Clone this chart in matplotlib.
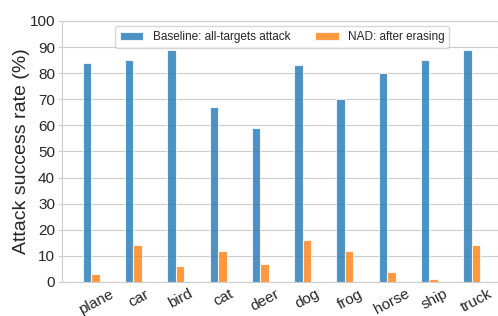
import numpy as np
import matplotlib
matplotlib.use('Agg')
import matplotlib.pyplot as plt
import seaborn as sns

sns.set_style('whitegrid')
plt.rcParams['font.family'] = ['Liberation Sans', 'DejaVu Sans']

classes = ['plane', 'car', 'bird', 'cat', 'deer', 'dog', 'frog', 'horse', 'ship', 'truck']
baseline = [84, 85, 89, 67, 59, 83, 70, 80, 85, 89]
nad = [3, 14, 6, 12, 7, 16, 12, 4, 1, 14]

x = np.arange(len(classes))
w = 0.2

fig = plt.figure(figsize=(4.98, 3.16), dpi=100)
ax = fig.add_axes([0.1245, 0.1076, 0.8755, 0.826])
ax.bar(x, baseline, w, color='#1f77b4', alpha=0.8, edgecolor='white', linewidth=0.8,
       label='Baseline: all-targets attack')
ax.bar(x + w, nad, w, color='#ff7f0e', alpha=0.8, edgecolor='white', linewidth=0.8,
       label='NAD: after erasing')

ax.set_xlim(-0.59, 9.72)
ax.set_ylim(0, 100)
ax.set_yticks(range(0, 101, 10))
ax.set_xticks(x + 0.22)
ax.set_xticklabels(classes, rotation=28, fontsize=11)
ax.tick_params(axis='y', labelsize=11, pad=2, left=True, length=3, color='.8')
ax.tick_params(axis='x', pad=0)
ax.xaxis.grid(False)
ax.set_ylabel('Attack success rate (%)', fontsize=14)
ax.yaxis.set_label_coords(-0.073, 0.5)
ax.legend(loc='upper center', ncol=2, fontsize=8.5, handlelength=2.0,
          columnspacing=2.1, borderaxespad=0.45, bbox_to_anchor=(0.505, 1))

plt.savefig('out.png', dpi=100)
